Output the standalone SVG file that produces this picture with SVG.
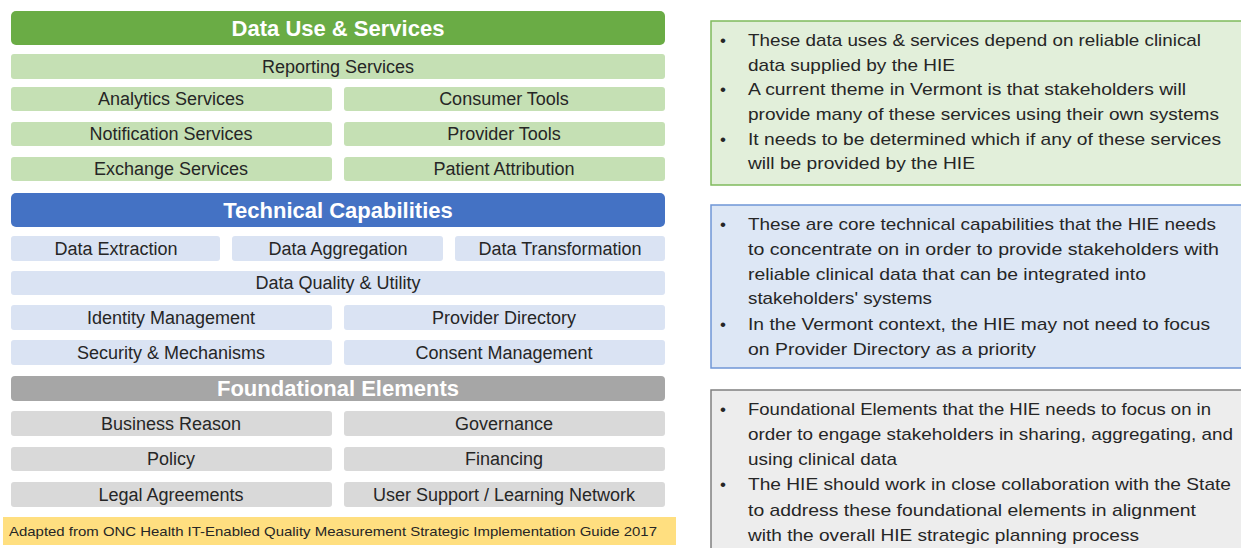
<svg xmlns="http://www.w3.org/2000/svg" width="1241" height="548" viewBox="0 0 1241 548">
<style>
.hd{font-family:"Liberation Sans",Arial,sans-serif;font-weight:bold;font-size:22px;fill:#fff;text-anchor:middle}
.lb{font-family:"Liberation Sans",Arial,sans-serif;font-size:18px;fill:#262626;text-anchor:middle}
.g{fill:#c5e0b4}.b{fill:#dae3f3}.y{fill:#d9d9d9}
.nt{font-family:"Liberation Sans",Arial,sans-serif;font-size:17px;fill:#262626}
.ft{font-family:"Liberation Sans",Arial,sans-serif;font-size:13px;fill:#262626}
</style>
<rect width="1241" height="548" fill="#fff"/>
<g id="hdr-data-use"><rect x="11" y="11" width="654" height="34" rx="5" fill="#6aac45"/><text class="hd" x="338" y="36">Data Use &amp; Services</text></g>
<g id="reporting"><rect class="g" x="11" y="54" width="654" height="25" rx="3"/><text class="lb" x="338" y="73">Reporting Services</text></g>
<g id="analytics"><rect class="g" x="11" y="87" width="321" height="24" rx="3"/><text class="lb" x="171" y="105">Analytics Services</text></g>
<g id="consumer"><rect class="g" x="344" y="87" width="321" height="24" rx="3"/><text class="lb" x="504" y="105">Consumer Tools</text></g>
<g id="notification"><rect class="g" x="11" y="122" width="321" height="24" rx="3"/><text class="lb" x="171" y="140">Notification Services</text></g>
<g id="provider-tools"><rect class="g" x="344" y="122" width="321" height="24" rx="3"/><text class="lb" x="504" y="140">Provider Tools</text></g>
<g id="exchange"><rect class="g" x="11" y="157" width="321" height="24" rx="3"/><text class="lb" x="171" y="175">Exchange Services</text></g>
<g id="attribution"><rect class="g" x="344" y="157" width="321" height="24" rx="3"/><text class="lb" x="504" y="175">Patient Attribution</text></g>

<g id="hdr-tech"><rect x="11" y="193" width="654" height="34" rx="5" fill="#4472c4"/><text class="hd" x="338" y="218">Technical Capabilities</text></g>
<g id="extraction"><rect class="b" x="11" y="236" width="209" height="25" rx="3"/><text class="lb" x="116" y="255">Data Extraction</text></g>
<g id="aggregation"><rect class="b" x="232" y="236" width="211" height="25" rx="3"/><text class="lb" x="338" y="255">Data Aggregation</text></g>
<g id="transformation"><rect class="b" x="455" y="236" width="210" height="25" rx="3"/><text class="lb" x="560" y="255">Data Transformation</text></g>
<g id="quality"><rect class="b" x="11" y="271" width="654" height="24" rx="3"/><text class="lb" x="338" y="289">Data Quality &amp; Utility</text></g>
<g id="identity"><rect class="b" x="11" y="305" width="321" height="25" rx="3"/><text class="lb" x="171" y="324">Identity Management</text></g>
<g id="directory"><rect class="b" x="344" y="305" width="321" height="25" rx="3"/><text class="lb" x="504" y="324">Provider Directory</text></g>
<g id="security"><rect class="b" x="11" y="340" width="321" height="25" rx="3"/><text class="lb" x="171" y="359">Security &amp; Mechanisms</text></g>
<g id="consent"><rect class="b" x="344" y="340" width="321" height="25" rx="3"/><text class="lb" x="504" y="359">Consent Management</text></g>

<g id="hdr-found"><rect x="11" y="376" width="654" height="25" rx="4" fill="#a6a6a6"/><text class="hd" x="338" y="396">Foundational Elements</text></g>
<g id="business"><rect class="y" x="11" y="411" width="321" height="25" rx="3"/><text class="lb" x="171" y="430">Business Reason</text></g>
<g id="governance"><rect class="y" x="344" y="411" width="321" height="25" rx="3"/><text class="lb" x="504" y="430">Governance</text></g>
<g id="policy"><rect class="y" x="11" y="447" width="321" height="24" rx="3"/><text class="lb" x="171" y="465">Policy</text></g>
<g id="financing"><rect class="y" x="344" y="447" width="321" height="24" rx="3"/><text class="lb" x="504" y="465">Financing</text></g>
<g id="legal"><rect class="y" x="11" y="482" width="321" height="25" rx="3"/><text class="lb" x="171" y="501">Legal Agreements</text></g>
<g id="support"><rect class="y" x="344" y="482" width="321" height="25" rx="3"/><text class="lb" x="504" y="501">User Support / Learning Network</text></g>

<g id="footer"><rect x="3" y="517" width="673" height="28" fill="#ffdf80"/><text class="ft" x="9" y="536" textLength="648" lengthAdjust="spacingAndGlyphs">Adapted from ONC Health IT-Enabled Quality Measurement Strategic Implementation Guide 2017</text></g>

<g id="note-green">
<rect x="711" y="21" width="535" height="164" fill="#e2efda" stroke="#7fba5c" stroke-width="1.5"/>
<text class="nt" x="720" y="46">•</text><text class="nt" x="748" y="46" textLength="453" lengthAdjust="spacingAndGlyphs">These data uses &amp; services depend on reliable clinical</text>
<text class="nt" x="748" y="71" textLength="207" lengthAdjust="spacingAndGlyphs">data supplied by the HIE</text>
<text class="nt" x="720" y="95">•</text><text class="nt" x="748" y="95" textLength="438" lengthAdjust="spacingAndGlyphs">A current theme in Vermont is that stakeholders will</text>
<text class="nt" x="748" y="120" textLength="471" lengthAdjust="spacingAndGlyphs">provide many of these services using their own systems</text>
<text class="nt" x="720" y="145">•</text><text class="nt" x="748" y="145" textLength="473" lengthAdjust="spacingAndGlyphs">It needs to be determined which if any of these services</text>
<text class="nt" x="748" y="169" textLength="227" lengthAdjust="spacingAndGlyphs">will be provided by the HIE</text>
</g>

<g id="note-blue">
<rect x="711" y="205" width="535" height="163" fill="#dde7f5" stroke="#6f96d6" stroke-width="1.5"/>
<text class="nt" x="720" y="230">•</text><text class="nt" x="748" y="230" textLength="468" lengthAdjust="spacingAndGlyphs">These are core technical capabilities that the HIE needs</text>
<text class="nt" x="748" y="255" textLength="471" lengthAdjust="spacingAndGlyphs">to concentrate on in order to provide stakeholders with</text>
<text class="nt" x="748" y="280" textLength="398" lengthAdjust="spacingAndGlyphs">reliable clinical data that can be integrated into</text>
<text class="nt" x="748" y="304" textLength="184" lengthAdjust="spacingAndGlyphs">stakeholders' systems</text>
<text class="nt" x="720" y="330">•</text><text class="nt" x="748" y="330" textLength="462" lengthAdjust="spacingAndGlyphs">In the Vermont context, the HIE may not need to focus</text>
<text class="nt" x="748" y="355" textLength="288" lengthAdjust="spacingAndGlyphs">on Provider Directory as a priority</text>
</g>

<g id="note-gray">
<rect x="711" y="390" width="535" height="163" fill="#ededed" stroke="#808080" stroke-width="1.5"/>
<text class="nt" x="720" y="415">•</text><text class="nt" x="748" y="415" textLength="463" lengthAdjust="spacingAndGlyphs">Foundational Elements that the HIE needs to focus on in</text>
<text class="nt" x="748" y="440" textLength="485" lengthAdjust="spacingAndGlyphs">order to engage stakeholders in sharing, aggregating, and</text>
<text class="nt" x="748" y="465" textLength="149" lengthAdjust="spacingAndGlyphs">using clinical data</text>
<text class="nt" x="720" y="490">•</text><text class="nt" x="748" y="490" textLength="483" lengthAdjust="spacingAndGlyphs">The HIE should work in close collaboration with the State</text>
<text class="nt" x="748" y="516" textLength="448" lengthAdjust="spacingAndGlyphs">to address these foundational elements in alignment</text>
<text class="nt" x="748" y="541" textLength="391" lengthAdjust="spacingAndGlyphs">with the overall HIE strategic planning process</text>
</g>
<g id="connectors"/>
</svg>
